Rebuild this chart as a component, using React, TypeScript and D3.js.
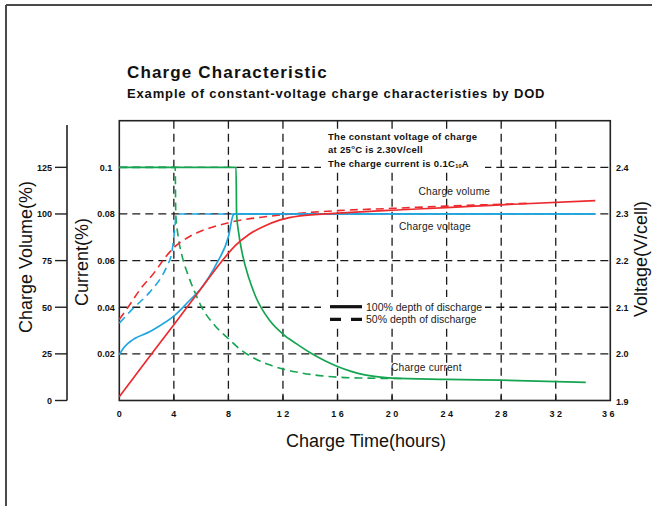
import React from "react";
import * as d3 from "d3";

// ---- data ----
const hourTicks = [0, 4, 8, 12, 16, 20, 24, 28, 32, 36];
const currentTicks = [0.02, 0.04, 0.06, 0.08, 0.1];
const volumeTicks = [0, 25, 50, 75, 100, 125];
const voltageTicks = [1.9, 2.0, 2.1, 2.2, 2.3, 2.4];

// charge current (C) 100% DOD
const current100: [number, number][] = [
  [0, 0.1], [8.56, 0.1], [8.6, 0.08], [8.75, 0.072], [9.0, 0.0635], [9.5, 0.0525],
  [10, 0.0445], [11, 0.0345], [12, 0.0285], [13, 0.0243], [14, 0.0205], [15, 0.0173],
  [16, 0.0146], [17, 0.0125], [18, 0.011], [19, 0.0101], [20, 0.0096], [24, 0.0091],
  [28, 0.0087], [34.2, 0.0078],
];
// charge current 50% DOD
const current50: [number, number][] = [
  [0, 0.1], [4.1, 0.1], [4.14, 0.08], [4.3, 0.071], [4.6, 0.062], [5, 0.0545],
  [5.5, 0.047], [6, 0.0405], [7, 0.0322], [8, 0.0265], [9, 0.0213], [10, 0.0178],
  [11, 0.0153], [12, 0.0135], [13, 0.0122], [14, 0.0112], [15, 0.0105], [16, 0.01],
  [18, 0.0096], [21, 0.0094],
];
// charge volume (%) 100% DOD
const volume100: [number, number][] = [
  [0, 2], [2, 21.5], [4, 40.6], [6, 60], [7.5, 74.5], [8.5, 83], [9.5, 89], [10.5, 93],
  [11.8, 96.8], [13.25, 99], [16, 100.4], [20, 102], [24, 103.4], [28, 104.9], [34.9, 107.2],
];
// charge volume (%) 50% DOD
const volume50: [number, number][] = [
  [0, 43.5], [0.67, 50.3], [1.5, 59.3], [2.62, 69.1], [3.23, 75.4], [4.08, 82.5],
  [4.94, 87], [5.92, 90.6], [7.14, 93.6], [8.36, 95.9], [10.8, 98.6], [13.25, 100.4],
  [16, 101.8], [20, 103], [24, 104.2], [28, 105.2], [30, 105.7],
];
// charge voltage (V/cell) 100% DOD
const voltage100: [number, number][] = [
  [0, 1.998], [0.3, 2.012], [0.78, 2.026], [2.25, 2.048], [4.08, 2.083], [5.2, 2.116],
  [5.9, 2.137], [7.14, 2.194], [8.0, 2.251], [8.36, 2.298], [8.5, 2.3], [34.9, 2.3],
];
// charge voltage (V/cell) 50% DOD
const voltage50: [number, number][] = [
  [0, 2.066], [1.03, 2.098], [2.25, 2.133], [3.47, 2.187], [3.84, 2.216], [4.08, 2.273],
  [4.16, 2.298], [4.3, 2.3], [34.9, 2.3],
];

// ---- layout ----
const W = 652, H = 506;
const L = 119.3, R = 610.3, T = 120.7, B = 400.5;
const FONT = "'Liberation Sans', Arial, Helvetica, sans-serif";
const GREEN = "#14a550", RED = "#ec2a2e", BLUE = "#1fa6e0", GRID = "#1a1a1a";

export default function App() {
  const x = d3.scaleLinear().domain([0, 36]).range([L, R]);
  const yCur = d3.scaleLinear().domain([0, 0.12]).range([B, T]);
  const yVol = d3.scaleLinear().domain([0, 150]).range([B, T]);
  const yVolt = d3.scaleLinear().domain([1.9, 2.5]).range([B, T]);

  const lineOf = (ys: d3.ScaleLinear<number, number>) =>
    d3.line<[number, number]>().x(d => x(d[0])).y(d => ys(d[1])).curve(d3.curveMonotoneX);

  const cur = lineOf(yCur), vol = lineOf(yVol), volt = lineOf(yVolt);
  const dash = "8 5";
  const tickFont = { fontFamily: FONT, fontWeight: 700, fontSize: 9, fill: "#111" } as const;

  return (
    <svg width={W} height={H} style={{ position: "absolute", left: 0, top: 0, background: "#fff" }}>
      <rect x={0} y={0} width={W} height={H} fill="#fff" />
      {/* outer frame */}
      <line x1={6} y1={5} x2={W} y2={5} stroke="#4a4a4a" strokeWidth={2} />
      <line x1={6} y1={5} x2={6} y2={H} stroke="#4a4a4a" strokeWidth={2} />

      {/* titles */}
      <text x={127} y={78} style={{ fontFamily: FONT, fontWeight: 700, fontSize: 17, letterSpacing: 1.15 }} fill="#111">
        Charge Characteristic
      </text>
      <text x={127} y={97.5} style={{ fontFamily: FONT, fontWeight: 700, fontSize: 13, letterSpacing: 0.85 }} fill="#111">
        Example of constant-voltage charge characteristies by DOD
      </text>

      {/* grid */}
      {currentTicks.map(t => (
        <line key={"h" + t} x1={L} x2={R} y1={yCur(t)} y2={yCur(t)} stroke={GRID} strokeWidth={1.3} strokeDasharray={dash} />
      ))}
      {hourTicks.filter(h => h > 0 && h < 36).map(h => (
        <g key={"v" + h}>
          <line x1={x(h)} x2={x(h)} y1={T} y2={B} stroke={GRID} strokeWidth={1.3} strokeDasharray={dash} />
          <line x1={x(h)} x2={x(h)} y1={B - 5} y2={B} stroke={GRID} strokeWidth={1.3} />
        </g>
      ))}

      {/* white boxes behind annotations */}
      <rect x={321} y={129} width={164} height={42} fill="#fff" />
      <rect x={321} y={297} width={164} height={30} fill="#fff" />

      {/* plot frame */}
      <rect x={L} y={T} width={R - L} height={B - T} fill="none" stroke="#222" strokeWidth={1.6} />

      {/* volume axis */}
      <line x1={67} x2={67} y1={125} y2={B} stroke="#222" strokeWidth={1.6} />
      {volumeTicks.map(v => (
        <g key={"vol" + v}>
          <line x1={55} x2={67} y1={yVol(v)} y2={yVol(v)} stroke="#222" strokeWidth={1.4} />
          <text x={52} y={yVol(v) + 3.3} textAnchor="end" style={tickFont}>{v}</text>
        </g>
      ))}

      {/* current labels */}
      {currentTicks.map(c => (
        <text key={"c" + c} x={106} y={yCur(c) + 3.3} textAnchor="middle" style={tickFont}>{String(c)}</text>
      ))}
      {/* voltage labels */}
      {voltageTicks.map(v => (
        <text key={"vt" + v} x={616} y={yVolt(v) + (v === 1.9 ? 4.5 : 3.3)} style={tickFont}>{v.toFixed(1)}</text>
      ))}
      {/* hour labels */}
      {hourTicks.map(h => (
        <text key={"hl" + h} x={x(h) - (h === 36 ? 2 : 0)} y={416.5} textAnchor="middle" style={tickFont}>
          {String(h).split("").join(" ")}
        </text>
      ))}

      {/* axis titles */}
      <text transform={`translate(31.5,257) rotate(-90)`} textAnchor="middle" style={{ fontFamily: FONT, fontSize: 18 }} fill="#111">Charge Volume(%)</text>
      <text transform={`translate(87.5,262) rotate(-90)`} textAnchor="middle" style={{ fontFamily: FONT, fontSize: 18 }} fill="#111">Current(%)</text>
      <text transform={`translate(647,259) rotate(-90)`} textAnchor="middle" style={{ fontFamily: FONT, fontSize: 18 }} fill="#111">Voltage(V/cell)</text>
      <text x={366} y={447} textAnchor="middle" style={{ fontFamily: FONT, fontSize: 18 }} fill="#111">Charge Time(hours)</text>

      {/* curves: dashed (50% DOD) */}
      <path d={cur(current50) || ""} fill="none" stroke={GREEN} strokeWidth={1.6} strokeDasharray="8 5" />
      <path d={volt(voltage50) || ""} fill="none" stroke={BLUE} strokeWidth={1.6} strokeDasharray="8 5" />
      <path d={vol(volume50) || ""} fill="none" stroke={RED} strokeWidth={1.6} strokeDasharray="8 5" />
      {/* solid (100% DOD) */}
      <path d={cur(current100) || ""} fill="none" stroke={GREEN} strokeWidth={1.7} />
      <path d={volt(voltage100) || ""} fill="none" stroke={BLUE} strokeWidth={1.7} />
      <path d={vol(volume100) || ""} fill="none" stroke={RED} strokeWidth={1.7} />

      {/* annotation */}
      <g style={{ fontFamily: FONT, fontWeight: 700, fontSize: 9.5, letterSpacing: 0.3 }} fill="#111">
        <text x={328} y={139.5}>The constant voltage of charge</text>
        <text x={328} y={153}>at 25<tspan fontSize={6} dy={-4}>o</tspan><tspan dy={4}>C is 2.30V/cell</tspan></text>
        <text x={328} y={166.5}>The charge current is 0.1C<tspan fontSize={5.5} dy={1.5}>10</tspan><tspan dy={-1.5}>A</tspan></text>
      </g>

      {/* curve labels */}
      <g style={{ fontFamily: FONT, fontSize: 10.2, letterSpacing: 0.2 }} fill="#222">
        <text x={418.5} y={195}>Charge volume</text>
        <text x={399} y={230.3}>Charge voltage</text>
        <text x={391} y={371}>Charge current</text>
      </g>

      {/* legend */}
      <line x1={330} x2={362} y1={306.7} y2={306.7} stroke="#111" strokeWidth={3.2} />
      <line x1={330} x2={362} y1={319.3} y2={319.3} stroke="#111" strokeWidth={3.2} strokeDasharray="11 10" />
      <g style={{ fontFamily: FONT, fontSize: 10.5 }} fill="#222">
        <text x={366} y={310.5}>100% depth of discharge</text>
        <text x={366} y={323}>50% depth of discharge</text>
      </g>
    </svg>
  );
}
